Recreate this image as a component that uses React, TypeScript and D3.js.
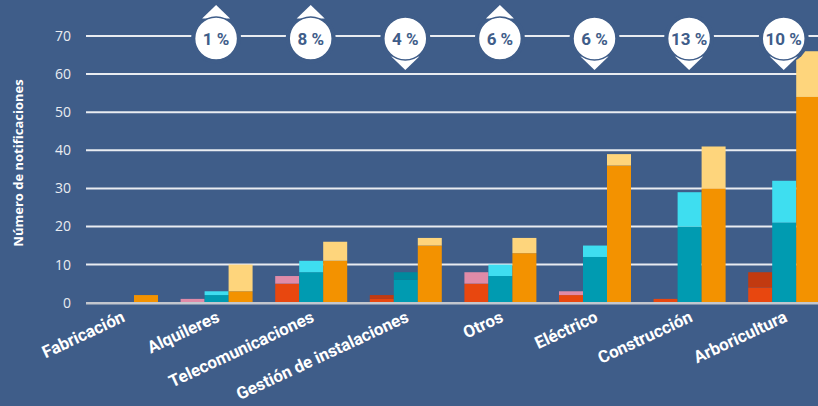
import React from "react";
import * as d3 from "d3";

const categories = ["Fabricación", "Alquileres", "Telecomunicaciones", "Gestión de instalaciones", "Otros", "Eléctrico", "Construcción", "Arboricultura"];
// bar 1 (red group)
const redBase = [0, 0, 5, 1, 5, 2, 1, 4];
const redDark = [0, 0, 0, 1, 0, 0, 0, 4];
const redPink = [0, 1, 2, 0, 3, 1, 0, 0];
// bar 2 (teal group)
const tealBase = [0, 2, 8, 6, 7, 12, 20, 21];
const tealDark = [0, 0, 0, 2, 0, 0, 0, 0];
const tealLight = [0, 1, 3, 0, 3, 3, 9, 11];
// bar 3 (orange group)
const orangeBase = [2, 3, 11, 15, 13, 36, 30, 54];
const orangeLight = [0, 7, 5, 2, 4, 3, 11, 12];
// badges
const badgeCats = ["Alquileres", "Telecomunicaciones", "Gestión de instalaciones", "Otros", "Eléctrico", "Construcción", "Arboricultura"];
const badgeLabels = ["1 %", "8 %", "4 %", "6 %", "6 %", "13 %", "10 %"];
const badgeDir = ["up", "up", "down", "up", "down", "down", "down"];
const yTicks = [0, 10, 20, 30, 40, 50, 60, 70];

const W = 818, H = 406;
const BG = "#3F5D89";

const bars = [
  { segs: [{ v: redBase, c: "#E8470F" }, { v: redDark, c: "#C23A10" }, { v: redPink, c: "#E08BA8" }] },
  { segs: [{ v: tealBase, c: "#009BB1" }, { v: tealDark, c: "#00899D" }, { v: tealLight, c: "#3EDEF0" }] },
  { segs: [{ v: orangeBase, c: "#F39200" }, { v: orangeLight, c: "#FED57C" }] },
];

export default function App() {
  const y = d3.scaleLinear().domain([0, 70]).range([302.7, 36]);
  const x = d3.scaleBand<string>().domain(categories).range([86, 820.2]).paddingInner(0.239).paddingOuter(0);
  const sub = d3.scaleBand<number>().domain([0, 1, 2]).range([0, x.bandwidth()]).padding(0);
  const plotLeft = 86;
  const cy = 38.5;
  const r = 21.5;

  const rects: React.ReactNode[] = [];
  categories.forEach((cat, i) => {
    bars.forEach((b, bi) => {
      let acc = 0;
      b.segs.forEach((s, si) => {
        const v = s.v[i];
        if (v > 0) {
          rects.push(
            <rect key={`${i}-${bi}-${si}`} x={(x(cat) as number) + (sub(bi) as number)} width={sub.bandwidth()}
              y={y(acc + v)} height={y(acc) - y(acc + v)} fill={s.c} />
          );
        }
        acc += v;
      });
    });
  });

  return (
    <svg width={W} height={H} style={{ position: "absolute", left: 0, top: 0, display: "block" }}>
      <rect x={0} y={0} width={W} height={H} fill={BG} />
      {yTicks.filter(t => t > 0).map(t => (
        <line key={t} x1={plotLeft} x2={W} y1={y(t)} y2={y(t)} stroke="#E9ECF1" strokeWidth={2} />
      ))}
      {yTicks.map(t => (
        <text key={"l" + t} x={71} y={y(t)} dy="0.35em" textAnchor="end" fill="#E9ECF1"
          fontFamily="'Open Sans', sans-serif" fontSize={14}>{t}</text>
      ))}
      <text transform={`translate(22.5,163) rotate(-90)`} textAnchor="middle" fill="#FFFFFF"
        fontFamily="'Open Sans', sans-serif" fontWeight={700} fontSize={13}>Número de notificaciones</text>
      {rects}
      <line x1={plotLeft} x2={W} y1={y(0) + 0.5} y2={y(0) + 0.5} stroke="#C3C7CE" strokeWidth={2.5} />
      {categories.map(cat => {
        const cx = (x(cat) as number) + x.bandwidth() / 2 + 4;
        return (
          <text key={"x" + cat} transform={`translate(${cx},${321}) rotate(-25)`} textAnchor="end" fill="#FFFFFF"
            fontFamily="Roboto, sans-serif" fontWeight={700} fontSize={17}>{cat}</text>
        );
      })}
      {badgeCats.map((cat, i) => {
        const cx = (x(cat) as number) + x.bandwidth() / 2 - 0.5;
        const up = badgeDir[i] === "up";
        const tri = up
          ? `M${cx},${cy - 33.5} L${cx - 14},${cy - 20} L${cx + 14},${cy - 20} Z`
          : `M${cx},${cy + 31.5} L${cx - 14},${cy + 18} L${cx + 14},${cy + 18} Z`;
        return (
          <g key={"b" + i}>
            <circle cx={cx} cy={cy} r={r + 3.5} fill={BG} />
            <path d={tri} fill="#FFFFFF" />
            <circle cx={cx} cy={cy} r={r} fill="#FFFFFF" stroke={BG} strokeWidth={1.5} />
            <text x={cx} y={cy} dy="0.36em" textAnchor="middle" fill="#3F5D89"
              fontFamily="Roboto, sans-serif" fontWeight={700} fontSize={17}>{badgeLabels[i]}</text>
          </g>
        );
      })}
    </svg>
  );
}
